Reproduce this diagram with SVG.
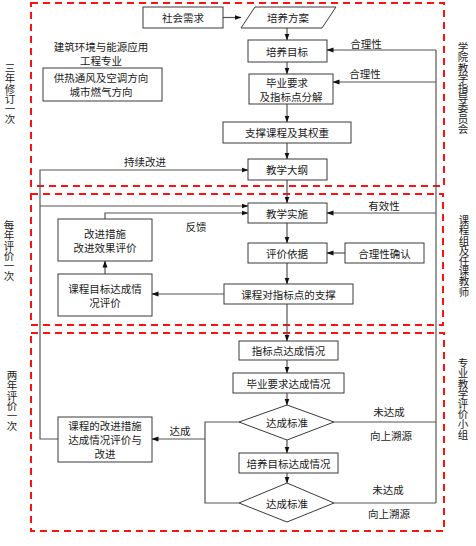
<svg xmlns="http://www.w3.org/2000/svg" width="476" height="546" viewBox="0 0 476 546">
<defs>
<marker id="ah" markerWidth="7" markerHeight="6" refX="6.5" refY="3" orient="auto" markerUnits="userSpaceOnUse">
<path d="M0,0.5 L7,3 L0,5.5 Z" fill="#111"/>
</marker>
</defs>
<style>
text{font-family:"Noto Sans CJK SC","Noto Sans",sans-serif;font-size:10.5px;fill:#1a1a1a;dominant-baseline:central;text-anchor:middle}
.box{fill:#fff;stroke:#3a3a3a;stroke-width:1}
.zone{fill:none;stroke:#ff1010;stroke-width:2;stroke-dasharray:7,5}
.ln{fill:none;stroke:#555;stroke-width:1.2}
.ar{marker-end:url(#ah)}
.vt{writing-mode:vertical-rl;text-anchor:start;letter-spacing:-0.3px;dominant-baseline:central}
</style>
<rect id="bg" width="476" height="546" fill="#fff"/>

<g id="zones">
<rect class="zone" x="31" y="3" width="413" height="183"/>
<rect class="zone" x="31" y="194" width="412" height="131"/>
<rect class="zone" x="31" y="333" width="413" height="198"/>
</g>

<g id="side-labels">
<text class="vt" x="10" y="63">三年修订一次</text>
<text class="vt" x="9" y="220">每年评价一次</text>
<text class="vt" x="12" y="370">两年评价一次</text>
<text class="vt" x="463" y="42">学院教学指导委员会</text>
<text class="vt" x="464" y="215">课程组及任课教师</text>
<text class="vt" x="463" y="358">专业教学评价小组</text>
</g>

<g id="connectors">
<path class="ln ar" d="M223,17.5 H241"/>
<path class="ln ar" d="M287,28 V40"/>
<path class="ln ar" d="M287,62 V74"/>
<path class="ln ar" d="M287,104 V122"/>
<path class="ln ar" d="M287,143 V159"/>
<path class="ln ar" d="M287,180 V203"/>
<path class="ln ar" d="M287,223 V243"/>
<path class="ln ar" d="M287,263 V284"/>
<path class="ln ar" d="M287,304 V341"/>
<path class="ln ar" d="M287,360 V373"/>
<path class="ln ar" d="M287,393 V405"/>
<path class="ln ar" d="M287,440 V453"/>
<path class="ln ar" d="M287,473 V483"/>
<path class="ln" d="M436,503 V50"/>
<path class="ln ar" d="M436,50 H327"/>
<path class="ln ar" d="M436,82 H333"/>
<path class="ln ar" d="M436,213 H327"/>
<path class="ln ar" d="M345,253 H327"/>
<path class="ln" d="M334,422 H436"/>
<path class="ln" d="M334,503 H436"/>
<path class="ln" d="M239,422 H205 V503 H239"/>
<path class="ln ar" d="M205,439 H152"/>
<path class="ln ar" d="M224,294 H152"/>
<path class="ln ar" d="M105,274 V261"/>
<path class="ln ar" d="M105,219 V213 H248"/>
<path class="ln ar" d="M58,439 H40 V170 H248"/>
<path class="ln ar" d="M40,206 H248"/>
</g>

<g id="edge-labels">
<text x="366" y="43">合理性</text>
<text x="365" y="73">合理性</text>
<text x="384" y="205">有效性</text>
<text x="145" y="161">持续改进</text>
<text x="196" y="226">反馈</text>
<text x="180" y="430">达成</text>
<text x="389" y="411">未达成</text>
<text x="391" y="435">向上溯源</text>
<text x="388" y="489">未达成</text>
<text x="389" y="513">向上溯源</text>
</g>

<g id="major-title">
<text x="101" y="46.5">建筑环境与能源应用</text>
<text x="101" y="60.5">工程专业</text>
</g>
<g id="n-direction">
<rect class="box" x="43" y="68" width="119" height="33"/>
<text x="101" y="77.5">供热通风及空调方向</text>
<text x="101" y="91.5">城市燃气方向</text>
</g>
<g id="n-shehui">
<rect class="box" x="143" y="7" width="80" height="21"/>
<text x="183" y="17.5">社会需求</text>
</g>
<g id="n-fangan">
<polygon class="box" points="255,7 336,7 322,28 241,28"/>
<text x="288" y="17.5">培养方案</text>
</g>
<g id="n-mubiao">
<rect class="box" x="248" y="40" width="79" height="22"/>
<text x="287" y="51">培养目标</text>
</g>
<g id="n-biye">
<rect class="box" x="249" y="74" width="84" height="30"/>
<text x="287" y="82">毕业要求</text>
<text x="291" y="96">及指标点分解</text>
</g>
<g id="n-zhicheng">
<rect class="box" x="223" y="122" width="128" height="21"/>
<text x="287" y="132.5">支撑课程及其权重</text>
</g>
<g id="n-dagang">
<rect class="box" x="248" y="159" width="79" height="21"/>
<text x="287" y="169.5">教学大纲</text>
</g>
<g id="n-shishi">
<rect class="box" x="248" y="203" width="79" height="20"/>
<text x="287" y="213">教学实施</text>
</g>
<g id="n-yiju">
<rect class="box" x="248" y="243" width="79" height="20"/>
<text x="287" y="253">评价依据</text>
</g>
<g id="n-queren">
<rect class="box" x="345" y="243" width="79" height="20"/>
<text x="384.5" y="253">合理性确认</text>
</g>
<g id="n-kczc">
<rect class="box" x="224" y="284" width="129" height="20"/>
<text x="288.5" y="294">课程对指标点的支撑</text>
</g>
<g id="n-gaijin">
<rect class="box" x="58" y="219" width="94" height="42"/>
<text x="105" y="233">改进措施</text>
<text x="105" y="247">改进效果评价</text>
</g>
<g id="n-kcmb">
<rect class="box" x="58" y="274" width="94" height="42"/>
<text x="105" y="288">课程目标达成情</text>
<text x="105" y="302">况评价</text>
</g>
<g id="n-zbd">
<rect class="box" x="239" y="341" width="99" height="19"/>
<text x="288.5" y="350.5">指标点达成情况</text>
</g>
<g id="n-byyq">
<rect class="box" x="233" y="373" width="111" height="20"/>
<text x="288.5" y="383">毕业要求达成情况</text>
</g>
<g id="n-std1">
<polygon class="box" points="287,405 334,422 287,440 239,422"/>
<text x="287" y="422">达成标准</text>
</g>
<g id="n-pymb">
<rect class="box" x="239" y="453" width="99" height="20"/>
<text x="288.5" y="463">培养目标达成情况</text>
</g>
<g id="n-std2">
<polygon class="box" points="287,483 334,503 287,522 239,503"/>
<text x="287" y="503">达成标准</text>
</g>
<g id="n-kcgj">
<rect class="box" x="58" y="417" width="94" height="45"/>
<text x="105" y="425.5">课程的改进措施</text>
<text x="105" y="439.5">达成情况评价与</text>
<text x="105" y="453.5">改进</text>
</g>
</svg>
